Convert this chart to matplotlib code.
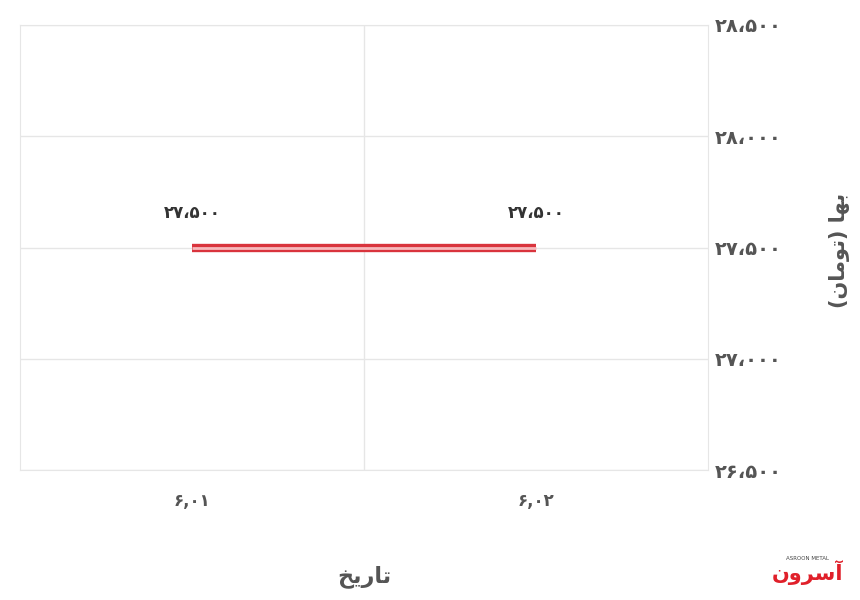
import matplotlib
matplotlib.use('Agg')
import matplotlib.pyplot as plt

# data
dates = ['۶,۰۱', '۶,۰۲']
prices = [27500, 27500]
price_labels = ['۲۷،۵۰۰', '۲۷،۵۰۰']
yticks = [26500, 27000, 27500, 28000, 28500]
ytick_labels = ['۲۶،۵۰۰', '۲۷،۰۰۰', '۲۷،۵۰۰', '۲۸،۰۰۰', '۲۸،۵۰۰']

# pre-shaped persian text (visual order)
xlabel = '\uFEA6\uFEF3\uFEAD\uFE8E\uFE97'                      # تاریخ
ylabel = '(\uFEE5\uFE8E\uFEE3\uFEEE\uFE97) \uFE8E\uFEEC\uFE91'  # بها (تومان)
logo = '\uFEE5\uFEED\uFEAE\uFEB3\uFE81'                        # آسرون

plt.rcParams['font.family'] = ['DejaVu Sans']

fig = plt.figure(figsize=(8.6, 6), dpi=100)
ax = fig.add_axes([20/860, 130/600, 688/860, 445/600])

x = [0, 1]
ax.plot(x, prices, color='#d9343d', lw=6, solid_capstyle='butt', zorder=3)
ax.plot(x, prices, color='#f7b9bc', lw=2, solid_capstyle='butt', zorder=4)

for xi, yi, lab in zip(x, prices, price_labels):
    ax.annotate(lab, (xi, yi), xytext=(0, 18), textcoords='offset points',
                ha='center', va='bottom', fontsize=12, fontweight='bold', color='#333333')

ax.set_xlim(-0.5, 1.5)
ax.set_ylim(26500, 28500)
ax.set_xticks(x)
ax.set_xticklabels(dates)
ax.set_xticks([0.5], minor=True)
ax.set_yticks(yticks)
ax.set_yticklabels(ytick_labels)
ax.yaxis.tick_right()

ax.tick_params(axis='x', which='both', length=0, pad=16, labelsize=12, labelcolor='#555555')
ax.tick_params(axis='y', length=0, pad=5, labelsize=14, labelcolor='#555555')
for t in ax.get_xticklabels() + ax.get_yticklabels():
    t.set_fontweight('bold')

ax.grid(True, axis='y', color='#e6e6e6', lw=1)
ax.grid(True, axis='x', which='minor', color='#e6e6e6', lw=1)
ax.set_axisbelow(True)
for s in ax.spines.values():
    s.set_color('#e6e6e6')

fig.text(364/860, 1 - 577/600, xlabel, ha='center', va='center',
         fontsize=16, fontweight='bold', color='#555555')
fig.text(840/860, 1 - 250/600, ylabel, ha='center', va='center', rotation=90,
         fontsize=15, fontweight='bold', color='#555555')
fig.text(808/860, 1 - 573/600, logo, ha='center', va='center',
         fontsize=15, fontweight='bold', color='#e0202a')
fig.text(808/860, 1 - 559/600, 'ASROON METAL', ha='center', va='center',
         fontsize=4, color='#444444')

fig.savefig('out.png', dpi=100)
